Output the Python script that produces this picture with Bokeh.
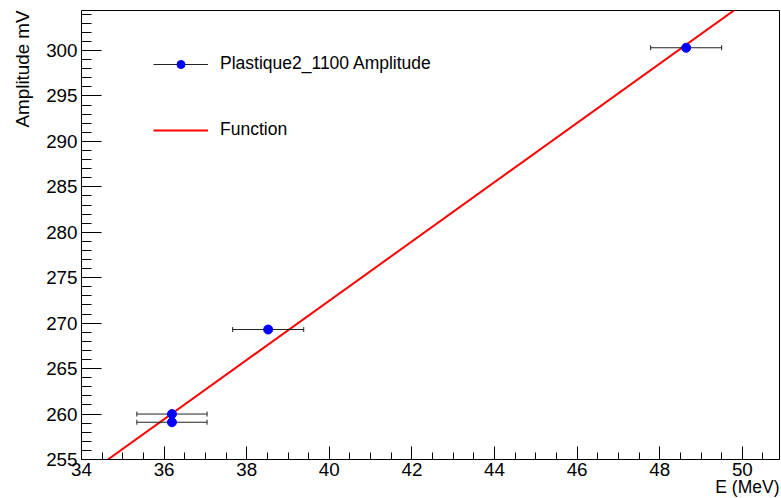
import numpy as np
from bokeh.plotting import figure
from bokeh.models import (ColumnDataSource, Range1d, SingleIntervalTicker, Whisker, TeeHead,
                          Legend, LegendItem, Title)
from bokeh.embed import file_html
from bokeh.resources import INLINE

# ---- data ----
energy = [36.19, 36.19, 38.52, 48.64]          # E (MeV)
amplitude = [260.0, 259.1, 269.3, 300.3]       # Amplitude mV
energy_err = [0.85, 0.85, 0.86, 0.86]
fit_p0 = 142.07                                # Function intercept
fit_p1 = 3.26                                  # Function slope
x_lim = [34.0, 50.9]
y_lim = [255.0, 304.4]
x_title = "E (MeV)"
y_title = "Amplitude mV"
series_name = "Plastique2_1100 Amplitude"
func_name = "Function"

FONT = "Liberation Sans"

p = figure(width=781, height=498, output_backend="svg", toolbar_location=None,
           x_range=Range1d(*x_lim), y_range=Range1d(*y_lim),
           min_border_left=81, min_border_right=2, min_border_top=10, min_border_bottom=39)
p.background_fill_color = "white"
p.border_fill_color = "white"
p.outline_line_color = "black"
p.outline_line_width = 1
p.grid.visible = False

p.xaxis.ticker = SingleIntervalTicker(interval=2, num_minor_ticks=4)
p.yaxis.ticker = SingleIntervalTicker(interval=5, num_minor_ticks=5)
for ax in (p.xaxis[0], p.yaxis[0]):
    ax.axis_line_color = "black"
    ax.major_tick_line_color = "black"
    ax.minor_tick_line_color = "black"
    ax.major_tick_out = 0
    ax.minor_tick_out = 0
    ax.major_label_text_font = FONT
    ax.major_label_text_font_size = "18.8px"
    ax.major_label_text_color = "black"
    ax.axis_label = None
p.xaxis.major_tick_in = 13
p.xaxis.minor_tick_in = 7
p.yaxis.major_tick_in = 20
p.yaxis.minor_tick_in = 10
p.xaxis.major_label_standoff = 3
p.yaxis.major_label_standoff = 4

src = ColumnDataSource(dict(
    x=energy, y=amplitude,
    lo=[e - d for e, d in zip(energy, energy_err)],
    hi=[e + d for e, d in zip(energy, energy_err)],
))

# fit function
xf = np.array(x_lim)
line_r = p.line(xf, fit_p0 + fit_p1 * xf, line_color="red", line_width=2)

# error bars
seg_r = p.segment(x0="lo", x1="hi", y0="y", y1="y", source=src, line_color="#222222", line_width=1)
wh = Whisker(base="y", lower="lo", upper="hi", dimension="width", source=src,
             line_alpha=0,
             lower_head=TeeHead(size=5, line_color="#222222", line_width=1),
             upper_head=TeeHead(size=5, line_color="#222222", line_width=1))
p.add_layout(wh)
pts_r = p.scatter("x", "y", source=src, size=9, color="blue")

legend = Legend(items=[LegendItem(label=series_name, renderers=[seg_r, pts_r]),
                       LegendItem(label=func_name, renderers=[line_r])],
                location=(72, 319), glyph_width=55, glyph_height=20, label_height=20,
                spacing=45, padding=0, margin=0, label_standoff=12,
                label_text_font=FONT, label_text_font_size="17.5px", label_text_color="black",
                border_line_alpha=0, background_fill_alpha=0)
p.add_layout(legend)

p.add_layout(Title(text=x_title, align="right", standoff=-8, offset=0,
                   text_font=FONT, text_font_size="17.5px", text_font_style="normal",
                   text_color="black"), "below")
p.add_layout(Title(text=y_title, align="right", vertical_align="top", standoff=18, offset=0,
                   text_font=FONT, text_font_size="18.8px", text_font_style="normal",
                   text_color="black"), "left")

open("out.html", "w").write(file_html(p, INLINE))
